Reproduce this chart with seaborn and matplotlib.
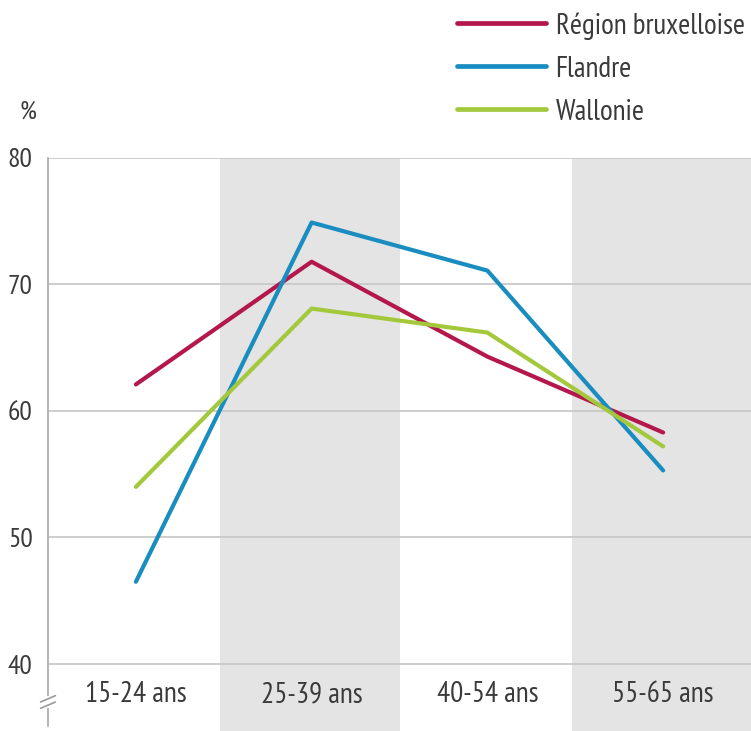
import numpy as np
import pandas as pd
import matplotlib
matplotlib.use("Agg")
import matplotlib.pyplot as plt
import seaborn as sns

# Employment rate by age group and region (%)
categories = ["15-24 ans", "25-39 ans", "40-54 ans", "55-65 ans"]
regions = ["Région bruxelloise", "Flandre", "Wallonie"]
bruxelles = [62.1, 71.8, 64.3, 58.3]
flandre = [46.5, 74.9, 71.1, 55.3]
wallonie = [54.0, 68.1, 66.2, 57.2]
yticks = [40, 50, 60, 70, 80]

colors = ["#b3174b", "#1a8dc0", "#a4c83c"]
text_color = "#3a3a3a"
grid_color = "#c9c9c9"
band_color = "#e4e4e4"

sns.set_theme(style="white")
plt.rcParams["font.family"] = ["PT Sans Narrow", "DejaVu Sans"]

df = pd.DataFrame({
    "pos": list(range(len(categories))) * 3,
    "value": bruxelles + flandre + wallonie,
    "region": [r for r in regions for _ in categories],
})

W, H = 751, 731
fig = plt.figure(figsize=(W / 100, H / 100), dpi=100)
ax_left, ax_top = 48, 158
ax = fig.add_axes([ax_left / W, 0, 1 - ax_left / W, 1 - ax_top / H])

px_per_unit = (664 - 158) / 40
y_bottom = 40 - (H - 664) / px_per_unit
ax.set_xlim(-0.5, 3.5)
ax.set_ylim(y_bottom, 80)

# alternating shaded columns
for i in range(len(categories)):
    if i % 2 == 1:
        ax.axvspan(i - 0.52, i + 0.5, color=band_color, zorder=0, lw=0)

# horizontal guides
for v in yticks:
    ax.axhline(v, color=grid_color, lw=1.3, zorder=1)

sns.lineplot(data=df, x="pos", y="value", hue="region", hue_order=regions,
             palette=colors, linewidth=3.0, ax=ax, legend=False, zorder=3,
             solid_capstyle="round")

for s in ["top", "right", "bottom"]:
    ax.spines[s].set_visible(False)
ax.spines["left"].set_color("#b0b0b0")
ax.spines["left"].set_linewidth(1.3)
ax.spines["left"].set_bounds(y_bottom + 0.4, 80)

ax.set_yticks(yticks)
ax.set_yticklabels([str(v) for v in yticks])
ax.set_xticks([])
ax.tick_params(axis="y", length=0, pad=11, labelsize=20, labelcolor=text_color)
ax.set_xlabel("")
ax.set_ylabel("")

# category labels under the 40 line
y_lab = 80 - (695 - 158) / px_per_unit
for i, c in enumerate(categories):
    ax.text(i, y_lab, c, ha="center", va="center", fontsize=21, color=text_color)

# axis break mark
y_brk = 80 - (702 - 158) / px_per_unit
ax.plot([-0.5, -0.5], [y_brk - 0.3, y_brk + 0.3], color="white", lw=3,
        clip_on=False, zorder=4)
for dy in (-0.25, 0.25):
    ax.plot([-0.5 - 0.042, -0.5 + 0.042], [y_brk + dy - 0.25, y_brk + dy + 0.25],
            color="#9a9a9a", lw=1.2, clip_on=False, zorder=5)

fig.text(28 / W, 1 - 112 / H, "%", ha="center", va="center", fontsize=19,
         color=text_color)

handles = [plt.Line2D([], [], color=c, lw=3.4) for c in colors]
fig.legend(handles, regions, loc="upper left",
           bbox_to_anchor=(457 / W, 1 - 12 / H), frameon=False,
           fontsize=21, labelcolor=text_color, handlelength=3.05,
           handletextpad=0.33, labelspacing=0.55, borderpad=0,
           borderaxespad=0)

fig.savefig("out.png", dpi=100)
